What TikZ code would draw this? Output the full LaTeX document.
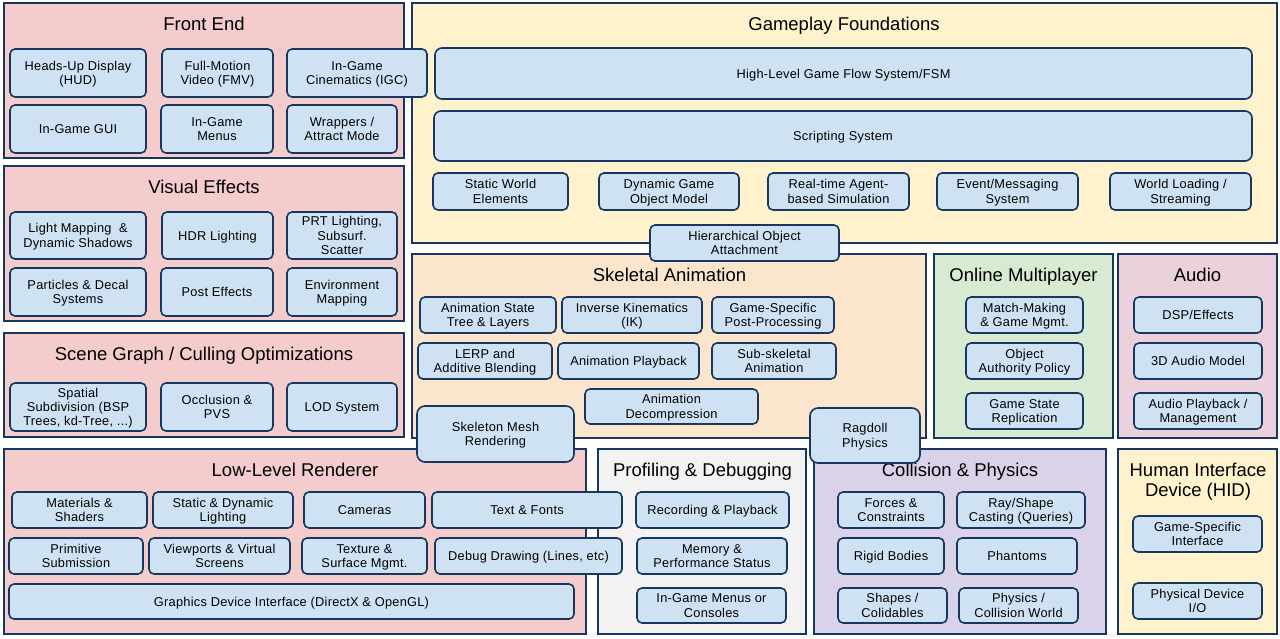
\documentclass[tikz,border=0pt]{standalone}
\usepackage{fontspec}
\setmainfont{Liberation Sans}
\newfontfamily\itemfont[LetterSpace=2]{Liberation Sans}
\definecolor{edgeblue}{RGB}{23,55,94}
\definecolor{itemblue}{RGB}{207,226,243}
\definecolor{pinkpanel}{RGB}{244,204,204}
\definecolor{yellowpanel}{RGB}{255,242,204}
\definecolor{peachpanel}{RGB}{252,229,205}
\definecolor{greenpanel}{RGB}{217,234,211}
\definecolor{rosepanel}{RGB}{234,209,220}
\definecolor{graypanel}{RGB}{243,243,243}
\definecolor{lavpanel}{RGB}{217,210,233}
\begin{document}
\begin{tikzpicture}[x=1pt,y=-1pt,
  panel/.style={draw=edgeblue, line width=1.6pt, anchor=north west, inner sep=0pt, outer sep=0pt},
  item/.style={draw=edgeblue, fill=itemblue, line width=1.6pt, rounded corners=5pt, inner sep=0pt,
    text depth=0pt, align=center, font=\itemfont\fontsize{12.8}{14.3}\selectfont},
  title/.style={text depth=0pt, align=center, font=\fontsize{18.5}{20.5}\selectfont}]
\useasboundingbox[fill=white] (0,0) rectangle (1280,639);

\node[panel, fill=pinkpanel, minimum width=400pt, minimum height=155pt] (frontend) at (4,3) {};
\node[panel, fill=pinkpanel, minimum width=400pt, minimum height=155pt] (visualfx) at (4,166) {};
\node[panel, fill=pinkpanel, minimum width=400pt, minimum height=104pt] (scenegraph) at (4,333) {};
\node[panel, fill=pinkpanel, minimum width=582pt, minimum height=185pt] (renderer) at (4,449) {};
\node[panel, fill=yellowpanel, minimum width=865pt, minimum height=240pt] (gameplay) at (412,3) {};
\node[panel, fill=peachpanel, minimum width=514pt, minimum height=184pt] (skeletal) at (412,254) {};
\node[panel, fill=greenpanel, minimum width=179pt, minimum height=184pt] (online) at (934,254) {};
\node[panel, fill=rosepanel, minimum width=159pt, minimum height=184pt] (audio) at (1118,254) {};
\node[panel, fill=graypanel, minimum width=208pt, minimum height=185pt] (profiling) at (598,449) {};
\node[panel, fill=lavpanel, minimum width=292pt, minimum height=185pt] (collision) at (814,449) {};
\node[panel, fill=yellowpanel, minimum width=159pt, minimum height=185pt] (hid) at (1118,449) {};

\node[title] (frontendtitle) at (204,24) {Front End};
\node[title] (visualfxtitle) at (204,187) {Visual Effects};
\node[title] (scenegraphtitle) at (204,354) {Scene Graph / Culling Optimizations};
\node[title] (renderertitle) at (295,470) {Low-Level Renderer};
\node[title] (gameplaytitle) at (844,24) {Gameplay Foundations};
\node[title] (skeletaltitle) at (669.5,275) {Skeletal Animation};
\node[title] (onlinetitle) at (1023.5,275) {Online Multiplayer};
\node[title] (audiotitle) at (1197.5,275) {Audio};
\node[title] (profilingtitle) at (702.5,470) {Profiling \& Debugging};
\node[title] (collisiontitle) at (960,470) {Collision \& Physics};
\node[title] (hidtitle) at (1198,480) {Human Interface\\Device (HID)};

\node[item, minimum width=136pt, minimum height=48pt] (hud) at (78,73) {Heads-Up Display\\(HUD)};
\node[item, minimum width=111pt, minimum height=48pt] (fmv) at (217.5,73) {Full-Motion\\Video (FMV)};
\node[item, minimum width=140pt, minimum height=48pt] (igc) at (357,73) {In-Game\\Cinematics (IGC)};
\node[item, minimum width=136pt, minimum height=48pt] (gui) at (78,129) {In-Game GUI};
\node[item, minimum width=112pt, minimum height=48pt] (menus) at (217,129) {In-Game\\Menus};
\node[item, minimum width=110pt, minimum height=48pt] (wrappers) at (342,129) {Wrappers /\\Attract Mode};

\node[item, minimum width=136pt, minimum height=47pt] (lightmap) at (78,235.5) {Light Mapping \ \&\\Dynamic Shadows};
\node[item, minimum width=111pt, minimum height=47pt] (hdr) at (217.5,235.5) {HDR Lighting};
\node[item, minimum width=110pt, minimum height=47pt] (prt) at (342,235.5) {PRT Lighting,\\Subsurf.\\Scatter};
\node[item, minimum width=136pt, minimum height=48pt] (particles) at (78,292) {Particles \& Decal\\Systems};
\node[item, minimum width=112pt, minimum height=48pt] (post) at (217,292) {Post Effects};
\node[item, minimum width=110pt, minimum height=48pt] (envmap) at (342,292) {Environment\\Mapping};

\node[item, minimum width=136pt, minimum height=48pt] (spatial) at (78,407) {Spatial\\Subdivision (BSP\\Trees, kd-Tree, ...)};
\node[item, minimum width=112pt, minimum height=48pt] (occlusion) at (217,407) {Occlusion \&\\PVS};
\node[item, minimum width=110pt, minimum height=48pt] (lod) at (342,407) {LOD System};

\node[item, rounded corners=7pt, minimum width=817pt, minimum height=51pt] (flow) at (843.5,73.5) {High-Level Game Flow System/FSM};
\node[item, rounded corners=7pt, minimum width=818pt, minimum height=50pt] (scripting) at (843,136) {Scripting System};
\node[item, minimum width=135pt, minimum height=37pt] (staticworld) at (500.5,191.5) {Static World\\Elements};
\node[item, minimum width=140pt, minimum height=37pt] (dynobj) at (669,191.5) {Dynamic Game\\Object Model};
\node[item, minimum width=141pt, minimum height=37pt] (agent) at (838.5,191.5) {Real-time Agent-\\based Simulation};
\node[item, minimum width=141pt, minimum height=37pt] (event) at (1007.5,191.5) {Event/Messaging\\System};
\node[item, minimum width=141pt, minimum height=37pt] (worldload) at (1180.5,191.5) {World Loading /\\Streaming};
\node[item, minimum width=189pt, minimum height=36pt] (hierattach) at (744.5,243) {Hierarchical Object\\Attachment};

\node[item, minimum width=136pt, minimum height=36pt] (animstate) at (488,315) {Animation State\\Tree \& Layers};
\node[item, minimum width=140pt, minimum height=36pt] (ik) at (632,315) {Inverse Kinematics\\(IK)};
\node[item, minimum width=122pt, minimum height=36pt] (postproc) at (773,315) {Game-Specific\\Post-Processing};
\node[item, minimum width=134pt, minimum height=36pt] (lerp) at (485,361) {LERP and\\Additive Blending};
\node[item, minimum width=141pt, minimum height=36pt] (playback) at (628.5,361) {Animation Playback};
\node[item, minimum width=124pt, minimum height=36pt] (subskel) at (774,361) {Sub-skeletal\\Animation};
\node[item, minimum width=173pt, minimum height=35pt] (decompress) at (671.5,406.5) {Animation\\Decompression};
\node[item, rounded corners=8pt, minimum width=157pt, minimum height=56pt] (skelmesh) at (495.5,434) {Skeleton Mesh\\Rendering};
\node[item, rounded corners=8pt, minimum width=110pt, minimum height=55pt] (ragdoll) at (865,435.5) {Ragdoll\\Physics};

\node[item, minimum width=117pt, minimum height=36pt] (matchmaking) at (1024.5,315) {Match-Making\\\& Game Mgmt.};
\node[item, minimum width=117pt, minimum height=36pt] (authority) at (1024.5,361) {Object\\Authority Policy};
\node[item, minimum width=117pt, minimum height=36pt] (replication) at (1024.5,411) {Game State\\Replication};

\node[item, minimum width=128pt, minimum height=36pt] (dsp) at (1198,315) {DSP/Effects};
\node[item, minimum width=128pt, minimum height=36pt] (audiomodel) at (1198,361) {3D Audio Model};
\node[item, minimum width=128pt, minimum height=36pt] (audioplay) at (1198,411) {Audio Playback /\\Management};

\node[item, minimum width=135pt, minimum height=36pt] (materials) at (79.5,510) {Materials \&\\Shaders};
\node[item, minimum width=140pt, minimum height=36pt] (lighting) at (223,510) {Static \& Dynamic\\Lighting};
\node[item, minimum width=121pt, minimum height=36pt] (cameras) at (364.5,510) {Cameras};
\node[item, minimum width=190pt, minimum height=36pt] (textfonts) at (527,510) {Text \& Fonts};
\node[item, minimum width=134pt, minimum height=36pt] (primitive) at (76,556) {Primitive\\Submission};
\node[item, minimum width=141pt, minimum height=36pt] (viewports) at (219.5,556) {Viewports \& Virtual\\Screens};
\node[item, minimum width=125pt, minimum height=36pt] (texture) at (364.5,556) {Texture \&\\Surface Mgmt.};
\node[item, minimum width=187pt, minimum height=36pt] (debugdraw) at (528.5,556) {Debug Drawing (Lines, etc)};
\node[item, minimum width=565pt, minimum height=35pt] (gdi) at (291.5,601.5) {Graphics Device Interface (DirectX \& OpenGL)};

\node[item, minimum width=153pt, minimum height=36pt] (recording) at (712.5,510) {Recording \& Playback};
\node[item, minimum width=150pt, minimum height=36pt] (memory) at (712,556) {Memory \&\\Performance Status};
\node[item, minimum width=149pt, minimum height=35pt] (consoles) at (711.5,605.5) {In-Game Menus or\\Consoles};

\node[item, minimum width=106pt, minimum height=36pt] (forces) at (891,510) {Forces \&\\Constraints};
\node[item, minimum width=128pt, minimum height=36pt] (raycast) at (1021,510) {Ray/Shape\\Casting (Queries)};
\node[item, minimum width=106pt, minimum height=36pt] (rigid) at (891,556) {Rigid Bodies};
\node[item, minimum width=120pt, minimum height=36pt] (phantoms) at (1017,556) {Phantoms};
\node[item, minimum width=109pt, minimum height=35pt] (shapes) at (892.5,605.5) {Shapes /\\Colidables};
\node[item, minimum width=119pt, minimum height=35pt] (physworld) at (1018.5,605.5) {Physics /\\Collision World};

\node[item, minimum width=129pt, minimum height=36pt] (gsinterface) at (1197.5,534) {Game-Specific\\Interface};
\node[item, minimum width=129pt, minimum height=36pt] (physdev) at (1197.5,601) {Physical Device\\I/O};
\end{tikzpicture}
\end{document}
